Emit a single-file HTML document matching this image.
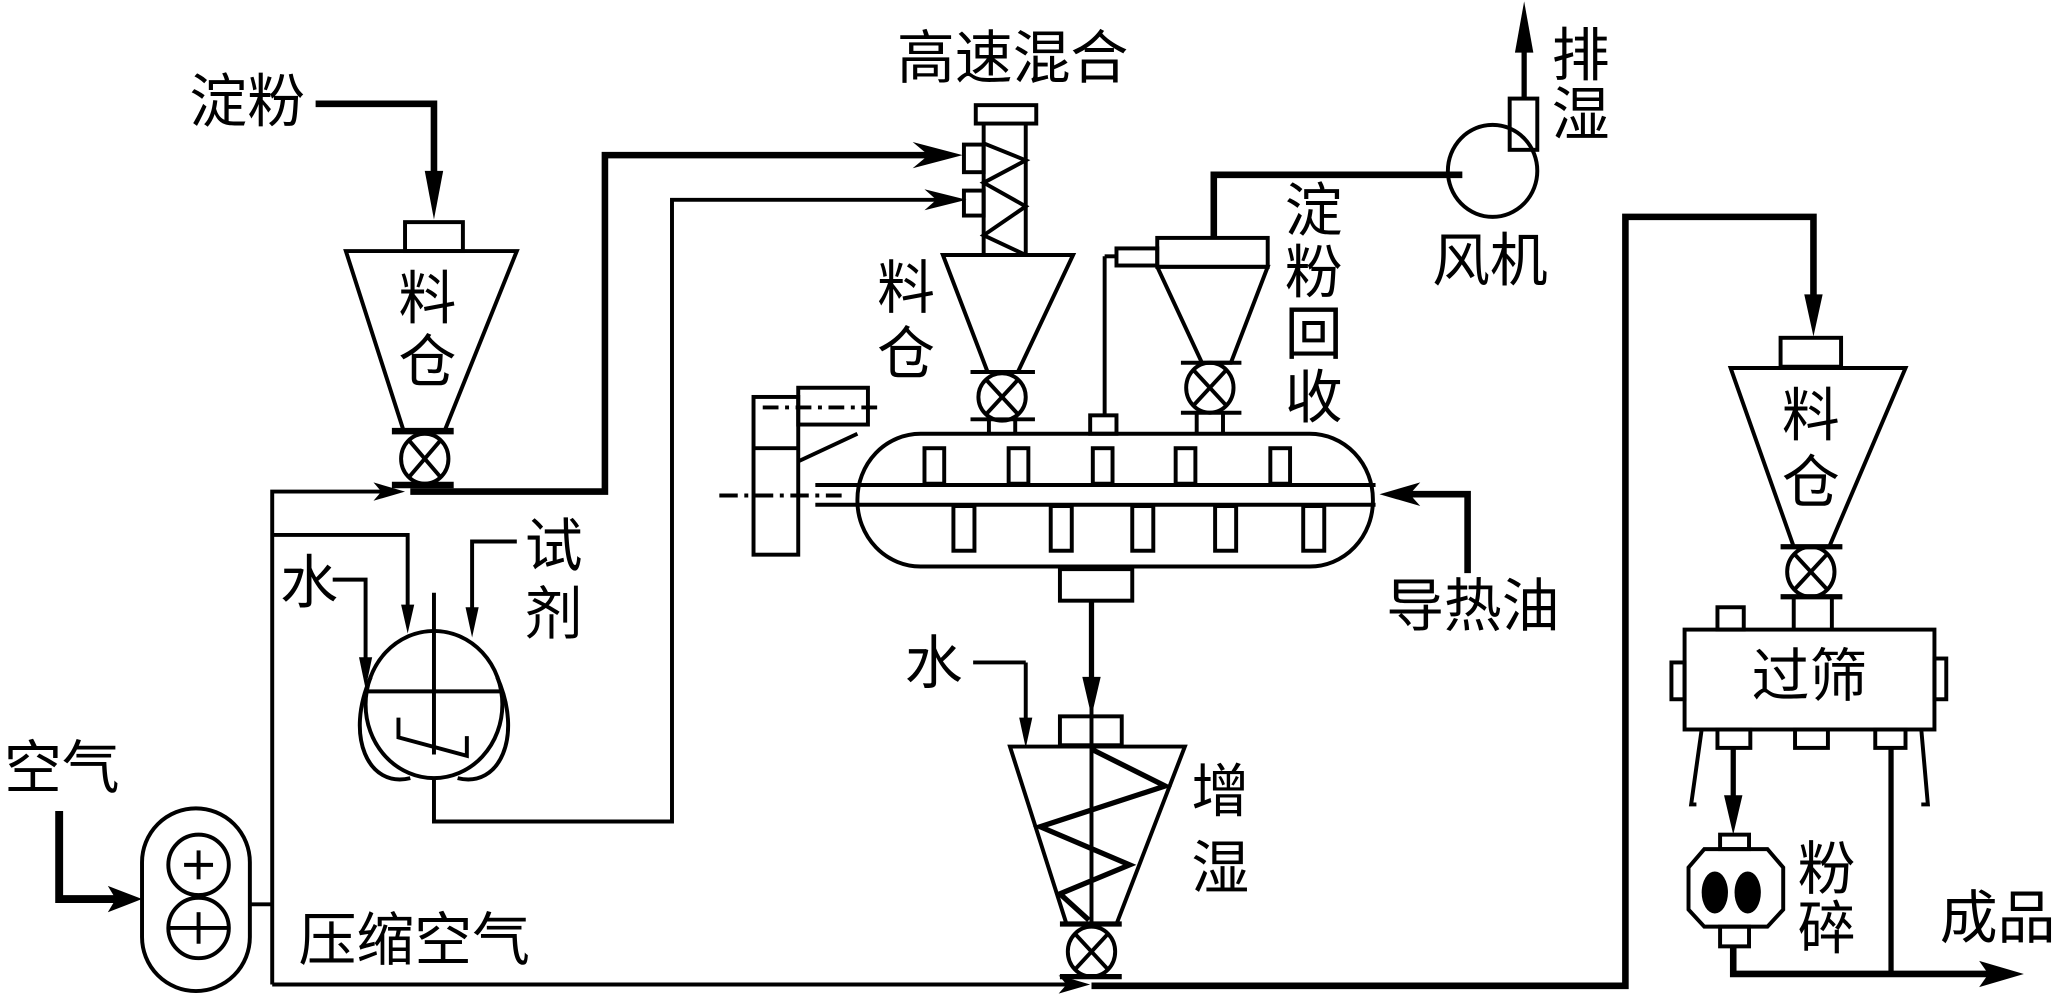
<!DOCTYPE html>
<html><head><meta charset="utf-8"><style>
html,body{margin:0;padding:0;background:#fff;}
svg{display:block;}
text{font-family:"Liberation Sans","Noto Sans CJK SC",sans-serif;font-size:44px;fill:#000;text-anchor:middle;dominant-baseline:central;}
</style></head><body>
<svg width="2062" height="995" viewBox="0 0 1568 757" preserveAspectRatio="none" xmlns="http://www.w3.org/2000/svg">
<g fill="none" stroke="#000" stroke-width="3">
<!-- starch feed -->
<polyline points="240,79 330,79 330,150" stroke-width="5"/>
<!-- left hopper -->
<rect x="308" y="169" width="44" height="22" />
<polygon points="263,191 393,191 338,328 307,328" />
<line x1="298" y1="328" x2="345" y2="328" stroke-width="5"/>
<ellipse cx="323" cy="349" rx="18" ry="19"/>
<line x1="311" y1="335" x2="335" y2="363"/><line x1="335" y1="335" x2="311" y2="363"/>
<line x1="298" y1="369" x2="345" y2="369" stroke-width="5"/>
<!-- line to mixer -->
<polyline points="312,374 460,374 460,118 715,118" stroke-width="5"/>
<polyline points="330,592 330,625 511,625 511,152 720,152"/>
<!-- mixer -->
<rect x="742" y="80" width="46" height="14"/>
<line x1="748" y1="94" x2="748" y2="194"/><line x1="780" y1="94" x2="780" y2="194"/>
<polyline points="748,109 780,122 748,139 780,157 748,179 780,194"/>
<rect x="733" y="110" width="15" height="21"/>
<rect x="733" y="145" width="15" height="19"/>
<!-- middle hopper -->
<polygon points="717,194 816,194 774,283 751,283"/>
<line x1="738" y1="283" x2="787" y2="283"/>
<ellipse cx="762" cy="302" rx="18" ry="18"/>
<line x1="750" y1="289" x2="774" y2="315"/><line x1="774" y1="289" x2="750" y2="315"/>
<line x1="738" y1="319" x2="787" y2="319"/>
<line x1="752" y1="319" x2="752" y2="330"/><line x1="772" y1="319" x2="772" y2="330"/>
<!-- dryer -->
<rect x="652" y="330" width="392" height="101" rx="48" ry="50"/>
<line x1="620" y1="369" x2="1046" y2="369"/>
<line x1="620" y1="384" x2="1046" y2="384"/>
<line x1="547" y1="377" x2="640" y2="377" stroke-dasharray="14,5,3,5"/>
<rect x="703" y="341" width="15" height="27"/><rect x="767" y="341" width="15" height="27"/><rect x="831" y="341" width="15" height="27"/><rect x="894" y="341" width="15" height="27"/><rect x="966" y="341" width="15" height="27"/>
<rect x="725" y="385" width="16" height="34"/><rect x="799" y="385" width="16" height="34"/><rect x="861" y="385" width="16" height="34"/><rect x="924" y="385" width="16" height="34"/><rect x="991" y="385" width="16" height="34"/>
<rect x="806" y="433" width="55" height="24"/>
<line x1="830" y1="457" x2="830" y2="535" stroke-width="4"/>
<!-- motor -->
<rect x="573" y="302" width="34" height="120"/>
<line x1="573" y1="341" x2="607" y2="341"/>
<rect x="607" y="295" width="53" height="28"/>
<line x1="580" y1="310" x2="672" y2="310" stroke-dasharray="12,5,3,5"/>
<line x1="652" y1="330" x2="607" y2="351"/>
<!-- cyclone -->
<rect x="880" y="181" width="84" height="22"/>
<polygon points="880,203 964,203 936,276 914,276"/>
<line x1="898" y1="276" x2="944" y2="276"/>
<ellipse cx="920" cy="295" rx="18" ry="19"/>
<line x1="908" y1="282" x2="932" y2="308"/><line x1="932" y1="282" x2="908" y2="308"/>
<line x1="898" y1="314" x2="944" y2="314"/>
<line x1="910" y1="314" x2="910" y2="330"/><line x1="930" y1="314" x2="930" y2="330"/>
<rect x="849" y="189" width="31" height="13"/>
<line x1="840" y1="195" x2="849" y2="195"/>
<line x1="840" y1="195" x2="840" y2="316"/>
<rect x="829" y="316" width="20" height="14"/>
<polyline points="923,181 923,133 1112,133" stroke-width="5"/>
<!-- fan -->
<ellipse cx="1135" cy="130" rx="34" ry="35"/>
<rect x="1148" y="75" width="21" height="39"/>
<line x1="1159" y1="75" x2="1159" y2="20" stroke-width="4"/>
<!-- heating oil -->
<polyline points="1065,376 1116,376 1116,436" stroke-width="5"/>
<!-- right line -->
<polyline points="830,750 1236,750 1236,165 1379,165 1379,240" stroke-width="5"/>
<!-- right hopper -->
<rect x="1354" y="257" width="46" height="22"/>
<polygon points="1316,280 1449,280 1391,416 1364,416"/>
<line x1="1354" y1="416" x2="1401" y2="416" stroke-width="4"/>
<ellipse cx="1377" cy="435" rx="18" ry="19"/>
<line x1="1365" y1="422" x2="1389" y2="448"/><line x1="1389" y1="422" x2="1365" y2="448"/>
<line x1="1354" y1="454" x2="1401" y2="454" stroke-width="4"/>
<line x1="1364" y1="454" x2="1364" y2="479"/><line x1="1393" y1="454" x2="1393" y2="479"/>
<!-- sieve -->
<rect x="1281" y="479" width="190" height="76"/>
<rect x="1306" y="462" width="20" height="17"/>
<rect x="1271" y="504" width="10" height="28"/>
<rect x="1471" y="501" width="9" height="31"/>
<rect x="1306" y="555" width="25" height="14"/><rect x="1365" y="555" width="25" height="14"/><rect x="1426" y="555" width="23" height="14"/>
<polyline points="1294,555 1286,612 1290,612"/>
<polyline points="1461,555 1466,612 1461,612"/>
<line x1="1318" y1="569" x2="1318" y2="622" stroke-width="4"/>
<!-- crusher -->
<rect x="1308" y="635" width="22" height="11"/>
<polygon points="1296,646 1344,646 1356,660 1356,692 1344,705 1296,705 1284,692 1284,660"/>
<rect x="1308" y="705" width="22" height="15"/>
<polyline points="1318,720 1318,741 1525,741" stroke-width="5"/>
<line x1="1438" y1="569" x2="1438" y2="741" stroke-width="4"/>
<!-- humidifier -->
<line x1="740" y1="504" x2="780" y2="504"/>
<line x1="780" y1="504" x2="780" y2="555"/>
<rect x="806" y="545" width="47" height="22"/>
<polygon points="768,568 901,568 849,703 811,703"/>
<line x1="830" y1="457" x2="830" y2="703"/>
<polyline points="830,570 886,598 791,629 859,658 806,680 828,700" stroke-width="4"/>
<line x1="806" y1="703" x2="853" y2="703" stroke-width="4"/>
<ellipse cx="830" cy="724" rx="18" ry="19"/>
<line x1="818" y1="711" x2="842" y2="737"/><line x1="842" y1="711" x2="818" y2="737"/>
<line x1="806" y1="743" x2="853" y2="743" stroke-width="4"/>
<!-- compressor -->
<rect x="108" y="615" width="82" height="139" rx="41" ry="41"/>
<circle cx="151" cy="658" r="23"/><circle cx="151" cy="706" r="23"/>
<line x1="140" y1="658" x2="162" y2="658"/><line x1="151" y1="647" x2="151" y2="669"/>
<line x1="128" y1="706" x2="174" y2="706"/><line x1="151" y1="694" x2="151" y2="718"/>
<polyline points="45,617 45,684 95,684" stroke-width="6"/>
<line x1="190" y1="688" x2="207" y2="688"/>
<polyline points="207,749 207,374 295,374"/>
<line x1="207" y1="749" x2="815" y2="749"/>
<!-- reactor -->
<ellipse cx="330" cy="536" rx="52" ry="56"/>
<path d="M282,515 C262,560 280,600 312,592"/>
<path d="M378,515 C398,560 380,600 348,592"/>
<line x1="278" y1="526" x2="382" y2="526"/>
<line x1="330" y1="451" x2="330" y2="574"/>
<polyline points="303,546 303,561 355,575 355,560"/>
<polyline points="207,407 310,407 310,470"/>
<polyline points="253,441 278,441 278,512"/>
<polyline points="393,412 359,412 359,472"/>
</g>
<!-- arrowheads -->
<g fill="#000">
<polygon points="330,167 323,130 337,130"/>
<polygon points="732,118 694,108 706,118 694,128"/>
<polygon points="735,152 703,144 712,152 703,160"/>
<polygon points="830,545 823,515 837,515"/>
<polygon points="1159,1 1152,40 1166,40"/>
<polygon points="1049,376 1080,367 1072,376 1080,385"/>
<polygon points="1379,256 1372,224 1386,224"/>
<polygon points="1318,635 1311,605 1325,605"/>
<polygon points="1539,741 1505,731 1512,741 1505,751"/>
<polygon points="108,684 82,674 88,684 82,694"/>
<polygon points="308,374 284,367 290,374 284,381"/>
<polygon points="829,749 805,742 811,749 805,756"/>
<polygon points="310,482 305,460 315,460"/>
<polygon points="278,524 273,500 283,500"/>
<polygon points="359,485 354,462 364,462"/>
<polygon points="780,569 775,546 785,546"/>
<ellipse cx="1304" cy="679" rx="10" ry="16"/>
<ellipse cx="1329" cy="679" rx="10" ry="16"/>
</g>
<!-- labels -->
<text x="188" y="78">淀粉</text>
<text x="325" y="228">料</text><text x="325" y="276">仓</text>
<text x="770" y="45">高速混合</text>
<text x="689" y="220">料</text><text x="689" y="270">仓</text>
<text x="999" y="161">淀</text><text x="999" y="208">粉</text><text x="999" y="255">回</text><text x="999" y="303">收</text>
<text x="1202" y="43">排</text><text x="1202" y="88">湿</text>
<text x="1133" y="199">风机</text>
<text x="1377" y="317">料</text><text x="1377" y="368">仓</text>
<text x="1120" y="462">导热油</text>
<text x="1376" y="515">过筛</text>
<text x="1389" y="662">粉</text><text x="1389" y="707">碎</text>
<text x="1519" y="699">成品</text>
<text x="928" y="603">增</text><text x="928" y="661">湿</text>
<text x="710" y="505">水</text>
<text x="235" y="444">水</text>
<text x="421" y="416">试</text><text x="421" y="468">剂</text>
<text x="47" y="585">空气</text>
<text x="315" y="716">压缩空气</text>
</svg>
</body></html>
